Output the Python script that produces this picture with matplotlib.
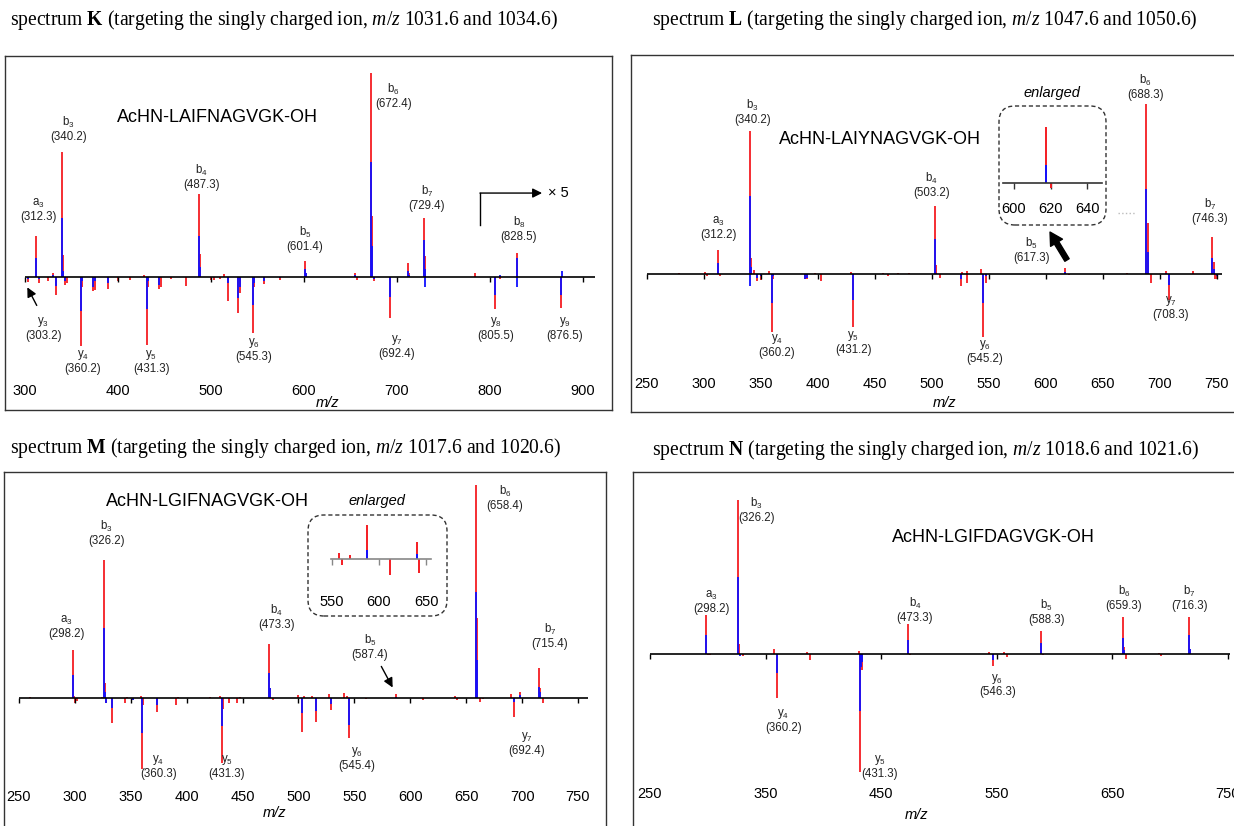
import matplotlib.pyplot as plt
from matplotlib.patches import FancyBboxPatch
from matplotlib.transforms import IdentityTransform

plt.rcParams['font.family'] = ['Liberation Sans', 'DejaVu Sans']
plt.rcParams['mathtext.fontset'] = 'custom'
plt.rcParams['mathtext.rm'] = 'Liberation Serif'
plt.rcParams['mathtext.it'] = 'Liberation Serif:italic'
plt.rcParams['mathtext.bf'] = 'Liberation Serif:bold'

W, H = 1234, 826
RED = '#f41c22'
BLUE = '#1010ff'

# ---- spectrum K : AcHN-LAIFNAGVGK-OH ----
k_mz = [303.2, 312.3, 314.7, 325, 330, 333, 340.2, 341.2, 343, 345, 360.2, 361.2,
        373, 375, 389.5, 400, 413, 428, 431.3, 432.3, 444, 446, 457, 472.8,
        487.3, 488.3, 500, 503, 510, 514, 518, 529, 531, 545.3, 546.3, 557, 574,
        601.4, 602.4, 655, 657, 672.4, 673.4, 675, 692.4, 712, 713, 729.4, 729.8,
        730.4, 783.9, 805.5, 811, 828.5, 829, 876.5, 877]
k_red = [-2.5, 20, -3, -2, 1.6, -9, 61, 10.6, -4, -3, -34, -5,
         -7, -6.5, -6, -2, -1.5, 1, -33.5, -5, -6, -5, -1, -4.6,
         40.5, 11, -1.5, -1.5, -1, 1.5, -12, -18, -8, -27.5, -5, -3.8, -1.5,
         7.7, 2, 2, -1.5, 100, 30, -2, -20.4, 6.5, 2, 29, 0,
         10, 2, -16, -1, 11.8, 0, -15.5, 0]
k_blue = [-1, 9, -1, 0, 0.8, -4.5, 29, 3, -2, 0, -17, -2,
          -5, -2, -3, 0, 0, 0, -16, -2, -4, 0, 0, 0,
          20, 5, 0, 0, 0, 0, -3, -10.6, -5, -14, -3, -2, -0.5,
          4, 2, 1, 0, 56, 15, -1, -10, 3, 1, 18, -5,
          4, 0, -9, 1, 9, -5, -9, 3]
k_ions = ['a_3', 'b_3', 'b_4', 'b_5', 'b_6', 'b_7', 'b_8',
          'y_3', 'y_4', 'y_5', 'y_6', 'y_7', 'y_8', 'y_9']
k_ion_mz = [312.3, 340.2, 487.3, 601.4, 672.4, 729.4, 828.5,
            303.2, 360.2, 431.3, 545.3, 692.4, 805.5, 876.5]
k_ion_x = [314.3, 346.6, 490, 601, 696, 732, 831, 319.7, 362, 436, 546, 699.7, 806, 880.6]
k_ion_y = [32.7, 72.4, 49, 18.5, 88.7, 38.4, 23.4, -25.3, -41.7, -41.7, -35.9, -34.3, -25.5, -25.5]
k_ticks = [300, 400, 500, 600, 700, 800, 900]

# ---- spectrum L : AcHN-LAIYNAGVGK-OH ----
l_mz = [278, 301, 303, 312.2, 314, 340.2, 340.5, 341.2, 344, 347, 350, 357,
        360.2, 361.2, 389, 391, 398, 403, 429, 431.2, 457, 462, 470, 480,
        503.2, 504.2, 507, 526, 527, 530.7, 531, 543, 545.2, 548, 617.3, 620.5,
        671, 688.3, 689.3, 692, 705.5, 708.3, 729, 746.3, 747.3, 748.6, 750]
l_red = [0.8, 1.5, -1, 14.3, -1, 84, 0, 9.4, 2.5, -4, -3.5, 2,
         -34, -3, -3, -3, 1, -3.7, 1.5, -31, 1, -1, 0.5, 0.5,
         40, 5.5, -2, -7, 1.5, -5, 1.8, 3, -36.6, -5, 3.5, -0.3,
         0.5, 100, 30, -5, 2, -15, 2, 22, 7, -2.5, -3]
l_blue = [0, 0, 0, 6.5, 0, 46, -7, 4, 0, -2, -1, 0,
          -16.6, -1, -3, -2, 0, 0, 0, -15, 0, 0, 0, 0,
          20.5, 1, 0, -3, 0, 0, 0, 0, -17, -1, 1.1, 0,
          0, 50, 13, 0, 1, -6, 0, 9.4, 3, 0, -1]
l_ions = ['a_3', 'b_3', 'b_4', 'b_5', 'b_6', 'b_7', 'y_4', 'y_5', 'y_6', 'y_7']
l_ion_mz = [312.2, 340.2, 503.2, 617.3, 688.3, 746.3, 360.2, 431.2, 545.2, 708.3]
l_ion_x = [312.8, 343, 500, 587.7, 687.7, 744, 364, 431.2, 546.8, 709.6]
l_ion_y = [27, 95.5, 52.4, 14.3, 109.8, 37.4, -41.9, -40.2, -45.4, -19.4]
l_ticks = [250, 300, 350, 400, 450, 500, 550, 600, 650, 700, 750]
l_inset_ticks = [600, 620, 640]

# ---- spectrum M : AcHN-LGIFNAGVGK-OH ----
m_mz = [259.8, 298.2, 299.5, 300.5, 302, 324, 326.2, 327.2, 328, 333.5, 345, 347,
        352, 359, 360.3, 361.3, 373, 390, 392, 421, 430, 431.3, 432.3, 438,
        444.7, 448, 473.3, 474.3, 477, 500, 503.4, 505, 512, 515.4, 527, 528.8,
        541, 543, 545.4, 557.4, 560.6, 569, 587.4, 611.7, 640.4, 642, 658.4,
        659.4, 662, 665, 690, 692.4, 698, 715.4, 716.4, 719]
m_red = [0.5, 22.7, 1, -2, -1.5, 0.5, 65, 7.3, -2, -11.7, -2.3, 0.5,
         -1, 1, -33, -3, -6.25, -3, 0.8, 0.5, 1, -30.5, -5, -2,
         -2, 0.5, 25.5, 4.7, -1, 1.5, -15.6, 1, 1.2, -11, 1.8, -5.5,
         2.3, 1, -18.75, 0.34, -0.34, 0.22, 1.9, -0.9, 0.95, -0.8, 100,
         37.5, -1.6, -0.5, 2, -9, 3, 14.4, 5, -2.3]
m_blue = [0, 11, 0, 0, 0, 0, 33, 3, -2, -4.7, 0, 0,
          -1, 0, -16.4, 0, -3, 0, 0, 0, 0, -13, 0, 0,
          0, 0, 12, 4.7, 0, 0, -7, 0, 0, -6, 0, -2.8,
          0, 0, -12.5, 0, 0, 0, 0.5, 0, 0.3, 0, 50,
          18, 0, 0, 0, -1.6, 1.5, 5.5, 3, 0]
m_ions = ['a_3', 'b_3', 'b_4', 'b_5', 'b_6', 'b_7', 'y_4', 'y_5', 'y_6', 'y_7']
m_ion_mz = [298.2, 326.2, 473.3, 587.4, 658.4, 715.4, 360.3, 431.3, 545.4, 692.4]
m_ion_x = [292.7, 328.4, 479.9, 564, 684.7, 725, 374.6, 435.8, 552, 704]
m_ion_y = [33.3, 77.4, 38, 23.9, 93.8, 29.4, -32.1, -31.9, -28.1, -21.4]
m_ticks = [250, 300, 350, 400, 450, 500, 550, 600, 650, 700, 750]
m_inset_ticks = [550, 600, 650]

# ---- spectrum N : AcHN-LGIFDAGVGK-OH ----
n_mz = [298.2, 300, 302, 326.2, 327.2, 327.5, 330.7, 357, 360.2, 386, 388, 430.5,
        431.3, 432.5, 433.5, 473.3, 475, 543.5, 546.3, 556, 558.6, 588.3, 590,
        659.3, 660.3, 662, 690, 692, 716.3, 717.3]
n_red = [25.5, -0.5, -0.5, 100, 6.7, 0, -1, 3.2, -28.5, 1.5, -3.7, 2.4,
         -76, -8, -10, 19.4, -0.5, 1.5, -7.6, 1.2, -1.5, 15, -0.5,
         24, 4.5, -3, 1, -1, 24, 3.2]
n_blue = [12.5, 0, 0, 50, 0, -1, 0, 0, -12.3, 0, 0, 0,
          -37, -8, -5, 9.3, 0, 0, -3.7, 0, 0, 7, 0,
          10.4, 3, 0, 0, 0, 12.5, 3.2]
n_ions = ['a_3', 'b_3', 'b_4', 'b_5', 'b_6', 'b_7', 'y_4', 'y_5', 'y_6']
n_ion_mz = [298.2, 326.2, 473.3, 588.3, 659.3, 716.3, 360.2, 431.3, 546.3]
n_ion_x = [303.4, 342.3, 479.2, 592.6, 660, 716.5, 365.3, 448.8, 550.4]
n_ion_y = [34.1, 93.5, 28.7, 27.6, 36.3, 36.3, -42.8, -72.8, -19.9]
n_ticks = [250, 350, 450, 550, 650, 750]

titles = [r'spectrum $\mathbf{K}$ (targeting the singly charged ion, $\mathit{m/z}$ 1031.6 and 1034.6)',
          r'spectrum $\mathbf{L}$ (targeting the singly charged ion, $\mathit{m/z}$ 1047.6 and 1050.6)',
          r'spectrum $\mathbf{M}$ (targeting the singly charged ion, $\mathit{m/z}$ 1017.6 and 1020.6)',
          r'spectrum $\mathbf{N}$ (targeting the singly charged ion, $\mathit{m/z}$ 1018.6 and 1021.6)']
peptides = ['AcHN-LAIFNAGVGK-OH', 'AcHN-LAIYNAGVGK-OH', 'AcHN-LGIFNAGVGK-OH', 'AcHN-LGIFDAGVGK-OH']

fig = plt.figure(figsize=(W / 100, H / 100), dpi=100)


def rect(l, t, r, b):
    return [l / W, 1 - b / H, (r - l) / W, (b - t) / H]


def fp(x, y):
    return x / W, 1 - y / H


def sticks(ax, mz, red, blue, lw=1.3):
    ax.vlines(mz, 0, red, color=RED, lw=lw)
    ax.vlines(mz, 0, blue, color=BLUE, lw=lw)


def panel(box, px0, mz0, sx, base, sy, mz, red, blue, ticks, span, label_py):
    l, t, r, b = box
    ax = fig.add_axes(rect(l, t, r, b))
    ax.set_xlim(mz0 + (l - px0) / sx, mz0 + (r - px0) / sx)
    ax.set_ylim((base - b) / sy, (base - t) / sy)
    sticks(ax, mz, red, blue)
    ax.hlines(0, span[0], span[1], color='black', lw=1.2, zorder=3)
    ax.vlines(ticks, -5 / sy, 0, color='black', lw=1, zorder=3)
    ax.set_xticks(ticks)
    ax.set_yticks([])
    ax.tick_params(axis='x', length=0, labelsize=10.5,
                   pad=-(b - label_py + 8) * 0.72)
    for s in ax.spines.values():
        s.set_color('#333333')
        s.set_linewidth(1)
    return ax


def ion_labels(ax, ions, ion_mz, xs, ys):
    for name, m, x, y in zip(ions, ion_mz, xs, ys):
        ax.text(x, y, '$\\mathregular{%s}$\n(%.1f)' % (name, m), ha='center', va='center',
                fontsize=8.3, linespacing=1.1, color='#222222')


def inset(box, lims, mz, red, blue, ticks, col, pad):
    ax = fig.add_axes(rect(*box))
    ax.set_xlim(lims[0], lims[1])
    ax.set_ylim(lims[2], lims[3])
    sticks(ax, mz, red, blue, lw=1.4)
    for k in ['top', 'left', 'right']:
        ax.spines[k].set_visible(False)
    ax.spines['bottom'].set_position(('data', 0))
    ax.spines['bottom'].set_color(col)
    ax.spines['bottom'].set_linewidth(1.2)
    ax.set_xticks(ticks)
    ax.set_yticks([])
    ax.tick_params(axis='x', length=4, width=1, color=col, labelsize=10.5, pad=pad)
    ax.patch.set_visible(False)
    return ax


def dashed_box(l, t, r, b):
    fig.add_artist(FancyBboxPatch((l, H - b), r - l, b - t,
                                  boxstyle='round,pad=0,rounding_size=16',
                                  transform=IdentityTransform(), fill=False,
                                  ec='#333333', lw=1, ls=(0, (3, 2))))


# panel K
axk = panel((5, 56, 612, 410), 25, 300, 0.93, 276.7, 2.04,
            k_mz, k_red, k_blue, k_ticks, (300, 913), 392)
ion_labels(axk, k_ions, k_ion_mz, k_ion_x, k_ion_y)
axk.annotate('', xy=(301.1, -4.0), xytext=(314, -15.3),
             arrowprops=dict(arrowstyle='-|>', color='black', lw=1, mutation_scale=14))
axk.plot([789.2, 789.2], [25.3, 41], color='black', lw=1)
axk.annotate('', xy=(856, 41), xytext=(789.2, 41),
             arrowprops=dict(arrowstyle='-|>', color='black', lw=1, mutation_scale=14,
                             shrinkA=0, shrinkB=0))
axk.text(862, 41, '× 5', ha='left', va='center', fontsize=10.5)

# panel L
axl = panel((631, 55, 1236, 412), 646.7, 250, 1.14, 274.3, 1.703,
            l_mz, l_red, l_blue, l_ticks, (250, 754.6), 385)
ion_labels(axl, l_ions, l_ion_mz, l_ion_x, l_ion_y)
axl.annotate('', xy=(603.8, 24.8), xytext=(618.7, 8.4),
             arrowprops=dict(arrowstyle='simple,head_width=0.5,head_length=0.45,tail_width=0.18',
                             color='black', mutation_scale=20, shrinkA=0, shrinkB=0))
axl.plot([663.5, 678.4], [35.8, 35.8], color='#bbbbbb', lw=1, ls=':')
dashed_box(999, 106, 1106, 225)
inset((1003, 115, 1102, 195), (594, 648.1, -0.75, 4.25),
      l_mz, l_red, l_blue, l_inset_ticks, '#333333', 9.4)
fig.text(*fp(1052, 93), 'enlarged', ha='center', va='center', fontsize=10.5, style='italic')

# panel M
axm = panel((4, 472, 606, 830), 19, 250, 1.118, 698.3, 2.133,
            m_mz, m_red, m_blue, m_ticks, (250, 759), 798)
ion_labels(axm, m_ions, m_ion_mz, m_ion_x, m_ion_y)
axm.annotate('', xy=(585.4, 3.9), xytext=(572.9, 16.1),
             arrowprops=dict(arrowstyle='-|>', color='black', lw=1, mutation_scale=14))
dashed_box(308, 515, 447, 616)
inset((331, 515, 431, 590), (548.9, 655.3, -1.73, 2.46),
      m_mz, m_red, m_blue, m_inset_ticks, '#888888', 21.6)
fig.text(*fp(377, 501), 'enlarged', ha='center', va='center', fontsize=10.5, style='italic')

# panel N
axn = panel((633, 472, 1236, 830), 650, 250, 1.156, 654.3, 1.543,
            n_mz, n_red, n_blue, n_ticks, (250, 751.7), 795)
ion_labels(axn, n_ions, n_ion_mz, n_ion_x, n_ion_y)

# titles, peptide sequences, axis labels
for (x, y), t in zip([(10, 20), (652, 20), (10, 448), (652, 450)], titles):
    fig.text(*fp(x, y), t, ha='left', va='center', fontsize=14.1, family='Liberation Serif')
for (x, y), p in zip([(217, 117), (879.5, 140), (207, 502), (993.5, 537)], peptides):
    fig.text(*fp(x, y), p, ha='center', va='center', fontsize=13)
for x, y in [(328, 403), (945, 403), (275, 813), (917, 815)]:
    fig.text(*fp(x, y), 'm/z', ha='center', va='center', fontsize=10.5, style='italic')

fig.savefig('out.png', dpi=100)
